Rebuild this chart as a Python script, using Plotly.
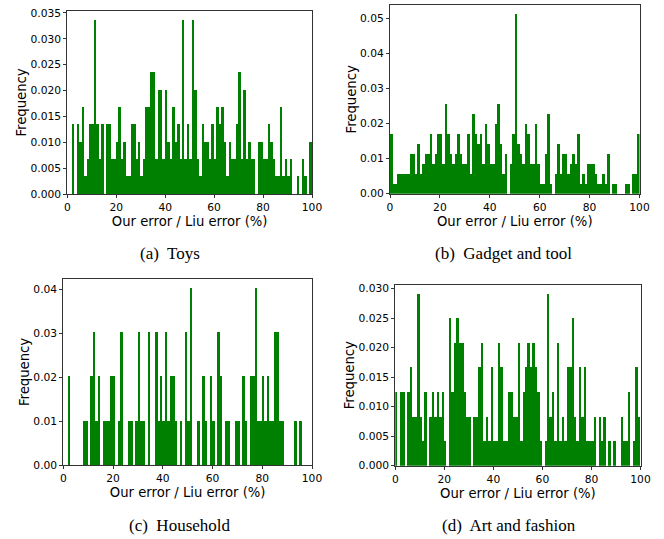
import plotly.graph_objects as go

# bin centres (bins of width 1 from 0 to 100)
bins = [i + 0.5 for i in range(100)]

freq_toys = [
    0, 0, 0.0135, 0, 0.0135, 0.0101, 0.0168, 0.0034, 0.0067, 0.0135,
    0.0135, 0.0337, 0.0135, 0.0067, 0.0135, 0, 0.0135, 0.0135, 0.0067, 0.0067,
    0.0101, 0.0168, 0.0067, 0.0101, 0.0034, 0.0034, 0.0135, 0.0135, 0.0067, 0.0101,
    0.0034, 0.0067, 0.0168, 0.0168, 0.0236, 0.0236, 0.0067, 0.0202, 0.0202, 0.0067,
    0.0202, 0.0101, 0.0067, 0.0168, 0.0101, 0.0135, 0.0067, 0.0337, 0.0067, 0.0135,
    0.0067, 0.0337, 0.0202, 0.0067, 0.0034, 0.0135, 0.0101, 0.0101, 0.0067, 0.0135,
    0.0067, 0.0168, 0.0135, 0.0168, 0.0101, 0.0034, 0.0101, 0.0067, 0.0067, 0.0135,
    0.0236, 0.0067, 0.0202, 0.0067, 0.0101, 0.0067, 0.0067, 0, 0.0101, 0.0101,
    0.0067, 0.0067, 0.0135, 0.0101, 0.0067, 0.0034, 0.0034, 0.0168, 0.0034, 0.0067,
    0.0034, 0.0067, 0, 0, 0.0034, 0, 0.0067, 0.0034, 0, 0.0101,
]

freq_gadget = [
    0.0171, 0.0028, 0.0028, 0.0057, 0.0057, 0.0057, 0.0057, 0.0057, 0.0114, 0.0114,
    0.0057, 0.0142, 0.0057, 0.0085, 0.0114, 0.0114, 0.0171, 0.0085, 0.0114, 0.0171,
    0.0171, 0.0085, 0.0256, 0.0171, 0.0114, 0.0085, 0.0114, 0.0171, 0.0114, 0.0085,
    0.0085, 0.0171, 0.0057, 0.0228, 0.0171, 0.0142, 0.0171, 0.0085, 0.0199, 0.0142,
    0.0085, 0.0085, 0.0199, 0.0256, 0.0142, 0.0057, 0.0114, 0, 0.0085, 0.0171,
    0.0513, 0.0142, 0.0114, 0.0085, 0.0199, 0.0171, 0.0085, 0.0085, 0.0199, 0.0085,
    0.0028, 0.0028, 0.0114, 0.0228, 0.0028, 0, 0.0057, 0.0142, 0.0057, 0.0114,
    0.0114, 0.0057, 0.0085, 0.0114, 0.0085, 0.0171, 0.0028, 0.0057, 0.0028, 0.0085,
    0.0085, 0.0085, 0.0057, 0.0028, 0.0028, 0.0057, 0.0028, 0.0114, 0, 0.0028,
    0.0028, 0, 0, 0, 0.0028, 0.0028, 0, 0.0057, 0.0057, 0.0171,
]

freq_household = [
    0, 0, 0.0202, 0, 0, 0, 0, 0, 0.0101, 0.0101,
    0, 0.0202, 0.0303, 0.0101, 0.0202, 0, 0.0101, 0.0101, 0.0101, 0.0202,
    0.0202, 0, 0.0101, 0.0303, 0, 0, 0.0101, 0.0101, 0, 0.0101,
    0.0303, 0.0101, 0.0101, 0, 0.0303, 0, 0, 0.0303, 0.0101, 0.0202,
    0.0101, 0.0303, 0.0101, 0.0202, 0.0202, 0.0101, 0, 0.0101, 0, 0.0303,
    0.0101, 0.0404, 0, 0, 0.0101, 0, 0.0202, 0.0101, 0, 0.0202,
    0.0101, 0, 0.0303, 0.0202, 0, 0.0101, 0.0101, 0, 0, 0.0101,
    0.0101, 0, 0.0202, 0.0101, 0, 0.0202, 0.0202, 0.0404, 0.0101, 0.0101,
    0.0202, 0.0101, 0.0202, 0.0101, 0.0101, 0.0303, 0.0303, 0.0101, 0.0101, 0,
    0, 0, 0, 0.0101, 0, 0.0101, 0, 0, 0, 0,
]

freq_art = [
    0.0125, 0, 0.0125, 0.0125, 0, 0.0125, 0.0167, 0.0083, 0.0083, 0.0292,
    0.0083, 0.0042, 0.0125, 0, 0.0083, 0.0125, 0.0083, 0.0125, 0.0083, 0.0125,
    0.0042, 0, 0.0250, 0.0125, 0.0208, 0.0250, 0.0208, 0.0208, 0.0125, 0.0083,
    0.0083, 0, 0.0083, 0.0083, 0.0167, 0.0208, 0.0042, 0.0083, 0.0042, 0.0167,
    0.0042, 0.0042, 0.0208, 0.0167, 0.0042, 0.0042, 0.0125, 0.0125, 0.0083, 0.0083,
    0.0208, 0.0042, 0.0125, 0.0167, 0.0208, 0.0167, 0.0208, 0.0167, 0.0125, 0.0042,
    0, 0.0042, 0.0292, 0.0083, 0.0125, 0.0042, 0.0208, 0.0042, 0.0083, 0.0042,
    0.0167, 0.0167, 0.0250, 0.0083, 0.0042, 0.0167, 0.0083, 0.0167, 0.0042, 0.0042,
    0.0042, 0.0083, 0, 0.0083, 0.0042, 0.0083, 0, 0.0042, 0, 0.0042,
    0, 0, 0.0083, 0.0042, 0.0042, 0.0125, 0, 0.0042, 0.0167, 0.0083,
]

x_ticks = [0, 20, 40, 60, 80, 100]
y_ticks_toys = [0, 0.005, 0.010, 0.015, 0.020, 0.025, 0.030, 0.035]
y_ticks_gadget = [0, 0.01, 0.02, 0.03, 0.04, 0.05]
y_ticks_household = [0, 0.01, 0.02, 0.03, 0.04]
y_ticks_art = [0, 0.005, 0.010, 0.015, 0.020, 0.025, 0.030]

captions = ["(a)  Toys", "(b)  Gadget and tool", "(c)  Household", "(d)  Art and fashion"]
x_title = "Our error / Liu error (%)"
y_title = "Frequency"

W, H = 664, 539

panels = [
    # (data, yticks, fmt, x px range, y px range (top, bottom), caption pos)
    (freq_toys, y_ticks_toys, ".3f", (67.3, 312.0), (11.0, 194.0), (170, 253)),
    (freq_gadget, y_ticks_gadget, ".2f", (390.0, 639.5), (5.0, 193.7), (503, 253)),
    (freq_household, y_ticks_household, ".2f", (63.3, 312.0), (279.0, 465.0), (180, 525)),
    (freq_art, y_ticks_art, ".3f", (395.3, 640.5), (284.7, 465.7), (509, 525)),
]

fig = go.Figure()
tick_font = dict(family="DejaVu Sans", size=10.7, color="black")
title_font = dict(family="DejaVu Sans", size=13.2, color="black")

for i, (data, yt, fmt, (x0, x1), (yt_px, yb_px), cap) in enumerate(panels, start=1):
    xa = "x" if i == 1 else f"x{i}"
    ya = "y" if i == 1 else f"y{i}"
    fig.add_trace(go.Bar(
        x=bins, y=data, width=1.0, xaxis=xa, yaxis=ya,
        marker=dict(color="#008000", line=dict(color="#008000", width=0)),
        showlegend=False, hoverinfo="x+y",
    ))
    ymax = max(data) * 1.05
    common = dict(showline=True, mirror=True, linecolor="#333333", linewidth=1,
                  ticks="outside", ticklen=3, tickwidth=1, tickcolor="#333333",
                  showgrid=False, zeroline=False, tickfont=tick_font, automargin=False)
    fig.layout[f"xaxis{'' if i == 1 else i}"] = dict(
        domain=[x0 / W, x1 / W], range=[0, 100], tickvals=x_ticks,
        anchor=ya, title=dict(text=x_title, font=title_font, standoff=0), **common)
    fig.layout[f"yaxis{'' if i == 1 else i}"] = dict(
        domain=[1 - yb_px / H, 1 - yt_px / H], range=[0, ymax], tickvals=yt,
        tickformat=fmt, anchor=xa, title=dict(text=y_title, font=title_font, standoff=0),
        **common)
    fig.add_annotation(text=captions[i - 1], x=cap[0] / W, y=1 - cap[1] / H,
                       xref="paper", yref="paper", showarrow=False,
                       xanchor="center", yanchor="middle",
                       font=dict(family="Liberation Serif", size=17, color="black"))

fig.update_layout(width=W, height=H, margin=dict(l=0, r=0, t=0, b=0),
                  plot_bgcolor="white", paper_bgcolor="white", bargap=0)

fig.write_html("out.html", config={"displayModeBar": False},
               post_script="document.body.style.margin='0';document.body.style.overflow='hidden';")
